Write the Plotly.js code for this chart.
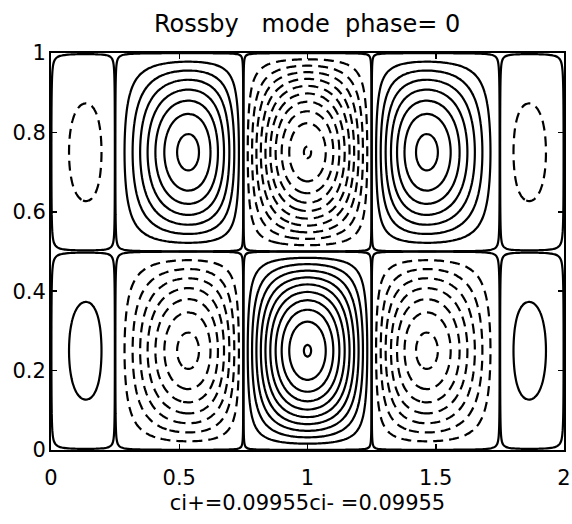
<!DOCTYPE html>
<html>
<head>
<meta charset="utf-8">
<script src="https://cdn.plot.ly/plotly-3.0.1.min.js"></script>
<style>
  html, body { margin: 0; padding: 0; background: #ffffff; }
  #chart { width: 572px; height: 524px; }
</style>
</head>
<body>
<div id="chart"></div>
<script>
// Basin extent (x: 0..2, y: 0..1)
const basinX = [0, 2];
const basinY = [0, 1];

// Mode description: half-waves of the basin envelope in x and y,
// the zonal carrier wavenumber (zero lines at x = 0.25, 0.75, 1.25, 1.75)
// and the phase of the plotted snapshot.
const envelopeHalfWaves = [1, 2];
const carrierWavenumber = [2 * Math.PI];
const phase = [0];

// Contour interval for positive and negative contours
const ciPos = 0.09955;
const ciNeg = 0.09955;
const nLevels = 10;

// Axis ticks
const xTicks = [0, 0.5, 1, 1.5, 2];
const xTickText = ['0', '0.5', '1', '1.5', '2'];
const yTicks = [0, 0.2, 0.4, 0.6, 0.8, 1];
const yTickText = ['0', '0.2', '0.4', '0.6', '0.8', '1'];

// Sample the streamfunction of the mode on a regular grid
const nx = 241, ny = 141;
const Lx = basinX[1] - basinX[0], Ly = basinY[1] - basinY[0];
const xs = [], ys = [];
for (let i = 0; i < nx; i++) xs.push(basinX[0] + Lx * i / (nx - 1));
for (let j = 0; j < ny; j++) ys.push(basinY[0] + Ly * j / (ny - 1));

let zmax = 0;
const z = ys.map(y => xs.map(x => {
  const v = Math.sin(envelopeHalfWaves[0] * Math.PI * x / Lx) *
            Math.sin(envelopeHalfWaves[1] * Math.PI * y / Ly) *
            Math.cos(carrierWavenumber[0] * x - phase[0]);
  zmax = Math.max(zmax, Math.abs(v));
  return v;
}));
// unit peak amplitude
const psi = z.map(row => row.map(v => v / zmax));

function contourTrace(start, end, size, dash) {
  return {
    type: 'contour',
    x: xs, y: ys, z: psi,
    autocontour: false,
    contours: { coloring: 'none', start: start, end: end, size: size, showlabels: false },
    line: { color: '#000000', width: 2.2, dash: dash, smoothing: 1 },
    showscale: false,
    hoverinfo: 'skip'
  };
}

const eps = 0.0025;
const data = [
  // cell outlines (zero contour) drawn solid
  contourTrace(-eps, eps, 2 * eps, 'solid'),
  // positive contours, solid
  contourTrace(ciPos, nLevels * ciPos, ciPos, 'solid'),
  // negative contours, dashed
  contourTrace(-nLevels * ciNeg, -ciNeg, ciNeg, '10px,6px')
];

const font = { family: 'DejaVu Sans, Arial, sans-serif', color: '#000000' };

const layout = {
  width: 572,
  height: 524,
  paper_bgcolor: '#ffffff',
  plot_bgcolor: '#ffffff',
  margin: { l: 51, r: 8, t: 53, b: 74 },
  showlegend: false,
  title: {
    text: 'Rossby\u00a0\u00a0 mode\u00a0 phase= 0',
    font: Object.assign({}, font, { size: 24 }),
    x: 0.537, xanchor: 'center',
    y: 0.955, yanchor: 'middle'
  },
  xaxis: {
    range: basinX,
    tickvals: xTicks,
    ticktext: xTickText,
    ticks: 'inside',
    ticklen: 6,
    tickwidth: 1.5,
    tickcolor: '#000000',
    showline: true,
    linecolor: '#000000',
    linewidth: 2,
    mirror: 'allticks',
    showgrid: false,
    zeroline: false,
    ticklabelstandoff: 8,
    tickfont: Object.assign({}, font, { size: 21 }),
    title: {
      text: 'ci+=' + ciPos + 'ci- =' + ciNeg,
      font: Object.assign({}, font, { size: 21 }),
      standoff: 6
    }
  },
  yaxis: {
    range: basinY,
    tickvals: yTicks,
    ticktext: yTickText,
    ticks: 'inside',
    ticklen: 6,
    tickwidth: 1.5,
    tickcolor: '#000000',
    showline: true,
    linecolor: '#000000',
    linewidth: 2,
    mirror: 'allticks',
    showgrid: false,
    zeroline: false,
    ticklabelstandoff: -1,
    tickfont: Object.assign({}, font, { size: 21 })
  }
};

Plotly.newPlot('chart', data, layout, { staticPlot: true, displayModeBar: false });
</script>
</body>
</html>
